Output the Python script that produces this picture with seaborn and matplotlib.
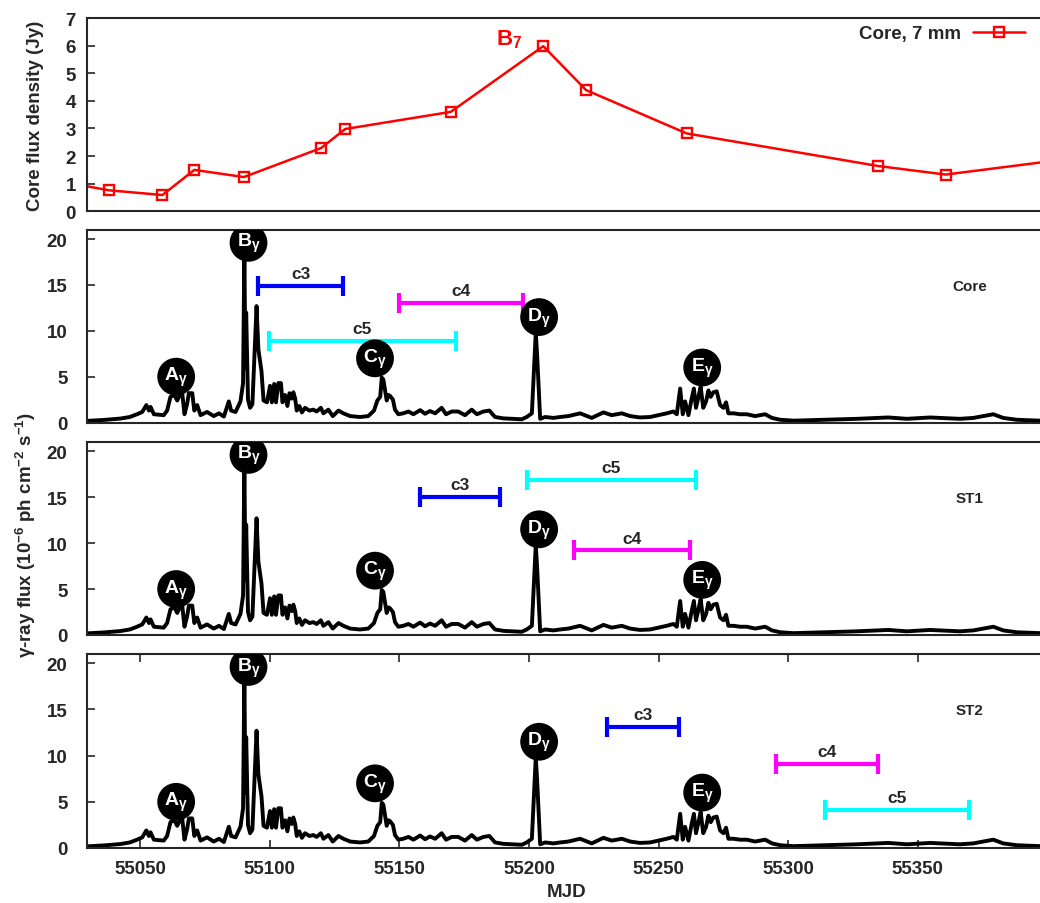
import numpy as np
import matplotlib
matplotlib.use("Agg")
import matplotlib.pyplot as plt
import seaborn as sns

# ---------------- data ----------------
# 7 mm core flux density (Jy)
mjd_7mm = [55020.0, 55038.0, 55058.6, 55070.9, 55090.0, 55119.8, 55129.1,
           55169.8, 55205.5, 55222.0, 55260.8, 55334.7, 55360.7, 55410.0]
flux_7mm = [1.07, 0.76, 0.59, 1.50, 1.24, 2.29, 2.98,
            3.60, 5.98, 4.39, 2.82, 1.64, 1.33, 1.92]

# gamma-ray light curve (1e-6 ph cm^-2 s^-1)
mjd_gamma = [
    55029.6, 55036.0, 55042.4, 55046.0, 55048.8, 55050.8, 55052.4, 55053.4,
    55054.0, 55055.3, 55059.1, 55060.4, 55061.7, 55063.2, 55064.3, 55065.3,
    55066.2, 55067.1, 55068.1, 55068.8, 55070.1, 55070.9, 55072.0, 55073.3,
    55075.8, 55078.4, 55080.4, 55082.3, 55084.2, 55085.1, 55086.8, 55088.7,
    55089.7, 55090.2, 55090.6, 55090.9, 55091.6, 55092.4, 55093.3, 55094.9,
    55095.6, 55096.8, 55097.6, 55098.9, 55100.1, 55100.8, 55101.7, 55102.4,
    55103.3, 55104.3, 55104.9, 55105.9, 55106.8, 55107.6, 55108.5, 55109.1,
    55109.8, 55110.4, 55111.4, 55112.4, 55113.6, 55115.3, 55116.8, 55118.1,
    55119.7, 55120.7, 55122.6, 55124.3, 55126.5, 55128.4, 55131.0, 55134.8,
    55138.0, 55140.2, 55141.5, 55142.6, 55143.2, 55143.8, 55144.5, 55145.1,
    55145.8, 55146.4, 55147.5, 55148.3, 55149.6, 55151.5, 55153.5, 55155.4,
    55158.0, 55159.9, 55161.8, 55163.8, 55166.3, 55168.0, 55170.2, 55172.7,
    55175.3, 55177.9, 55179.9, 55182.4, 55184.7, 55186.9, 55190.1, 55194.0,
    55197.2, 55199.1, 55201.1, 55202.6, 55203.1, 55204.3, 55206.2, 55209.4,
    55212.0, 55215.2, 55219.7, 55224.2, 55228.7, 55231.9, 55235.8, 55239.0,
    55242.8, 55246.7, 55249.9, 55253.1, 55255.7, 55257.0, 55258.3, 55259.3,
    55260.2, 55261.5, 55262.8, 55263.6, 55264.4, 55265.3, 55266.2, 55267.2,
    55268.3, 55269.2, 55270.1, 55271.1, 55272.4, 55273.7, 55275.0, 55276.0,
    55276.9, 55278.9, 55281.4, 55284.0, 55287.2, 55291.1, 55293.7, 55296.9,
    55302.0, 55313.6, 55326.4, 55338.6, 55345.7, 55354.7, 55366.2, 55371.4,
    55375.2, 55379.1, 55382.9, 55388.1, 55397.1]
flux_gamma = [
    0.18, 0.28, 0.43, 0.60, 0.90, 1.15, 1.90, 1.30,
    1.70, 0.90, 0.80, 1.30, 2.80, 3.00, 2.40, 3.00,
    3.30, 0.90, 2.00, 3.20, 3.20, 1.30, 1.90, 0.80,
    1.15, 0.70, 1.00, 0.65, 2.30, 1.30, 1.15, 2.30,
    4.30, 19.0, 6.00, 12.0, 2.50, 1.60, 2.00, 12.7,
    8.00, 5.60, 2.40, 2.20, 4.00, 2.20, 4.20, 2.20,
    4.30, 4.30, 2.20, 3.00, 1.80, 3.20, 2.60, 3.30,
    2.60, 1.30, 1.80, 1.10, 1.60, 1.30, 1.40, 1.20,
    1.60, 1.00, 1.40, 0.70, 1.30, 1.00, 0.70, 0.60,
    0.70, 1.30, 2.40, 2.80, 4.90, 4.70, 3.50, 2.40,
    3.00, 2.90, 2.50, 1.40, 0.90, 1.00, 1.20, 0.90,
    1.35, 0.95, 1.25, 1.00, 1.60, 0.90, 1.20, 1.20,
    0.80, 1.40, 0.90, 1.20, 1.30, 0.60, 0.45, 0.40,
    0.35, 0.60, 1.00, 9.80, 7.50, 0.40, 0.60, 0.50,
    0.60, 0.70, 1.00, 0.50, 1.10, 0.80, 1.00, 0.70,
    0.55, 0.60, 0.80, 1.00, 1.20, 0.90, 3.70, 0.90,
    2.30, 0.80, 2.70, 3.70, 1.60, 2.70, 3.90, 1.60,
    2.30, 3.50, 2.80, 3.30, 3.40, 1.90, 1.60, 2.20,
    1.00, 1.00, 0.90, 0.90, 0.70, 0.90, 0.50, 0.30,
    0.20, 0.30, 0.40, 0.55, 0.40, 0.55, 0.40, 0.50,
    0.70, 0.90, 0.50, 0.30, 0.20]

# labelled gamma-ray flares
flare_names = ["A", "B", "C", "D", "E"]
flare_mjd = [55063.9, 55091.8, 55140.6, 55203.9, 55266.8]
flare_level = [5.0, 19.6, 7.0, 11.5, 6.0]

# time ranges of the knots c3, c4, c5 for each region
knot_names = ["c3", "c4", "c5"]
knot_colors = ["#0000ff", "#ff00ff", "#00ffff"]
region_names = ["Core", "ST1", "ST2"]
knot_start = {"Core": [55095.6, 55150.0, 55099.6],
              "ST1": [55158.0, 55217.4, 55199.2],
              "ST2": [55230.1, 55295.2, 55314.2]}
knot_end = {"Core": [55128.4, 55197.6, 55171.8],
            "ST1": [55188.8, 55262.1, 55264.4],
            "ST2": [55257.7, 55334.5, 55369.7]}
knot_level = {"Core": [14.9, 13.0, 8.9],
              "ST1": [15.0, 9.2, 16.9],
              "ST2": [13.1, 9.1, 4.1]}

xticks = [55050, 55100, 55150, 55200, 55250, 55300, 55350]

# ---------------- style ----------------
sns.set_style("ticks")
plt.rcParams["font.family"] = ["Liberation Sans", "DejaVu Sans"]
plt.rcParams["font.weight"] = "bold"
plt.rcParams["mathtext.fontset"] = "custom"
plt.rcParams["mathtext.rm"] = "Liberation Sans:bold"
plt.rcParams["mathtext.bf"] = "Liberation Sans:bold"
plt.rcParams["mathtext.it"] = "Liberation Sans"
plt.rcParams["axes.linewidth"] = 1.5

W, H = 1040, 904
fig = plt.figure(figsize=(W / 100, H / 100), dpi=100)
LEFT = 87


def rect(top, bottom):
    return [LEFT / W, 1 - bottom / H, 1 - LEFT / W, (bottom - top) / H]


xlim = (55029.5, 55397.1)
TICK_FS = 13.5

# ---------------- top panel: 7 mm core ----------------
ax0 = fig.add_axes(rect(19, 212.3))
sns.lineplot(x=mjd_7mm, y=flux_7mm, ax=ax0, color="red", linewidth=1.8,
             marker="s", markersize=7.5, markerfacecolor="none",
             markeredgecolor="red", markeredgewidth=1.7, sort=False,
             label="Core, 7 mm")
ax0.set_xlim(*xlim)
ax0.set_ylim(0, 7)
ax0.set_yticks(range(0, 8))
ax0.set_xticks([])
ax0.tick_params(axis="y", direction="in", length=6, width=1.2,
                labelsize=TICK_FS, pad=8)
ax0.spines["right"].set_visible(False)
ax0.text(55192.3, 6.24, r"B$_7$", color="red", fontsize=16,
         fontweight="bold", ha="center", va="center")
ax0.legend(loc="upper right", bbox_to_anchor=(1025 / W, 1 - 26 / H),
           bbox_transform=fig.transFigure, frameon=False, markerfirst=False,
           borderpad=0, borderaxespad=0, handlelength=2.8, handletextpad=0.6,
           prop={"size": 13.5, "weight": "bold"})
ax0.set_xlabel("")
ax0.set_ylabel("")

# ---------------- gamma-ray panels ----------------
panel_px = [(231, 423.5), (443, 636), (655, 849)]
axes = []
for i, (top, bottom) in enumerate(panel_px):
    ax = fig.add_axes(rect(top, bottom))
    axes.append(ax)
    region = region_names[i]
    sns.lineplot(x=mjd_gamma, y=flux_gamma, ax=ax, color="black",
                 linewidth=2.8, sort=False, estimator=None)
    ax.set_xlim(*xlim)
    ax.set_ylim(0, 21)
    ax.set_yticks([0, 5, 10, 15, 20])
    ax.spines["right"].set_visible(False)
    ax.tick_params(axis="y", direction="in", length=6, width=1.2,
                   labelsize=TICK_FS, pad=14)
    if i < 2:
        ax.set_xticks([])
    else:
        ax.set_xticks(xticks)
        ax.tick_params(axis="x", direction="in", length=6, width=1.2,
                       top=True, labelsize=TICK_FS, pad=9)

    # flare markers
    ax.scatter(flare_mjd, flare_level, s=740, color="black", zorder=5,
               edgecolors="none")
    for name, xm, ym in zip(flare_names, flare_mjd, flare_level):
        ax.text(xm, ym, name + r"$_\gamma$", color="white", fontsize=14,
                fontweight="bold", ha="center", va="center", zorder=6)

    # knot time ranges
    for kname, kcol, xs, xe, yk in zip(knot_names, knot_colors,
                                       knot_start[region], knot_end[region],
                                       knot_level[region]):
        xc = 0.5 * (xs + xe)
        ax.errorbar([xc], [yk], xerr=[0.5 * (xe - xs)], fmt="none",
                    ecolor=kcol, elinewidth=3, capsize=7.5, capthick=3,
                    zorder=4)
        ax.annotate(kname, (xc, yk), xytext=(0, 3.5),
                    textcoords="offset points", ha="center", va="bottom",
                    fontsize=12.5, fontweight="bold")

    ax.text(55370, 14.9, region, fontsize=11, fontweight="bold",
            ha="center", va="center")
    ax.set_xlabel("")
    ax.set_ylabel("")

# ---------------- axis titles ----------------
fig.text(36 / W, 1 - 116 / H, "Core flux density (Jy)", rotation=90,
         ha="center", va="center", fontsize=13.5, fontweight="bold")
fig.text(26 / W, 1 - 535 / H,
         r"$\gamma$-ray flux (10$^{-6}$ ph cm$^{-2}$ s$^{-1}$)",
         rotation=90, ha="center", va="center", fontsize=13.5,
         fontweight="bold")
fig.text(567 / W, 1 - 893 / H, "MJD", ha="center", va="center",
         fontsize=13.5, fontweight="bold")

fig.savefig("out.png", dpi=100)
